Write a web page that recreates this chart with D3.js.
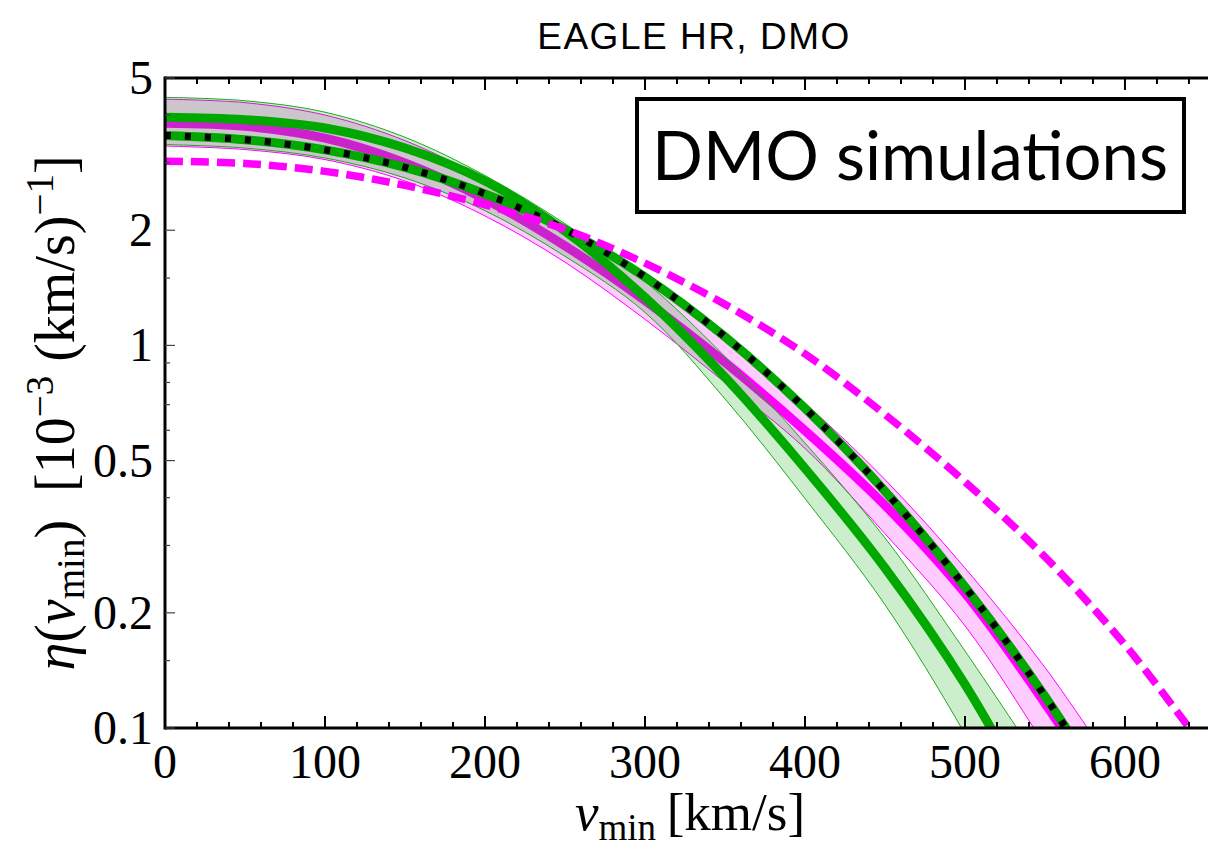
<!DOCTYPE html>
<html>
<head>
<meta charset="utf-8">
<script src="https://cdn.jsdelivr.net/npm/d3@7/dist/d3.min.js"></script>
<style>
  html, body { margin: 0; padding: 0; background: #ffffff; }
  svg { display: block; }
</style>
</head>
<body>
<svg id="chart" width="1208" height="855"></svg>
<script>
// eta(v_min) curves, [v_min in km/s, eta in 1e-3 (km/s)^-1]
const greenUpper = [[0,4.45],[50,4.36],[100,4.07],[150,3.50],[200,2.78],[250,2.08],[300,1.47],[350,0.935],[400,0.556],[450,0.314],[500,0.159],[550,0.0776]];
const greenMid   = [[0,3.95],[50,3.89],[100,3.70],[150,3.28],[200,2.69],[250,1.99],[300,1.335],[350,0.826],[400,0.477],[450,0.262],[500,0.130],[550,0.0555]];
const greenLower = [[0,3.35],[50,3.28],[100,3.09],[150,2.74],[200,2.25],[250,1.71],[300,1.22],[350,0.725],[400,0.398],[450,0.21],[500,0.0965],[550,0.0395]];
const magUpper   = [[0,4.40],[50,4.31],[100,4.00],[150,3.43],[200,2.72],[250,2.04],[300,1.49],[350,1.053],[400,0.706],[450,0.446],[500,0.262],[550,0.144],[600,0.0715]];
const magMid     = [[0,3.81],[50,3.74],[100,3.48],[150,3.00],[200,2.41],[250,1.82],[300,1.31],[350,0.903],[400,0.599],[450,0.382],[500,0.225],[550,0.116],[600,0.0555]];
const magLower   = [[0,3.32],[50,3.25],[100,3.06],[150,2.69],[200,2.18],[250,1.65],[300,1.17],[350,0.80],[400,0.538],[450,0.322],[500,0.185],[550,0.09],[600,0.042]];
const fitDashed  = [[0,3.54],[50,3.45],[100,3.245],[150,2.92],[200,2.49],[250,2.01],[300,1.51],[350,1.053],[400,0.685],[450,0.416],[500,0.234],[550,0.121],[600,0.057]];
const shmDashed  = [[0,3.03],[50,2.99],[100,2.85],[150,2.62],[200,2.33],[250,2.01],[300,1.64],[350,1.28],[400,0.95],[450,0.66],[500,0.44],[550,0.28],[600,0.165],[650,0.088]];

// axis ticks
const xMajorTicks = [0, 100, 200, 300, 400, 500, 600];
const xMinorTicks = [20,40,60,80,120,140,160,180,220,240,260,280,320,340,360,380,420,440,460,480,520,540,560,580,620,640];
const yMajorTicks = [0.1, 0.2, 0.5, 1, 2, 5];
const yMajorLabels = ["0.1", "0.2", "0.5", "1", "2", "5"];
const yMinorTicks = [0.15, 0.3, 0.4, 0.6, 0.7, 0.8, 0.9, 1.5, 3, 4];

const titleText = "EAGLE HR, DMO";
const boxText = "DMO simulations";

const svg = d3.select("#chart");
const plotLeft = 165, plotRight = 1208, plotTop = 78, plotBottom = 728;

const x = d3.scaleLinear().domain([0, 651.9]).range([plotLeft, plotRight]);
const y = d3.scaleLog().domain([0.1, 5]).range([plotBottom, plotTop]);

const serif = "'Liberation Serif', 'Times New Roman', serif";

svg.append("defs").append("clipPath").attr("id", "plotClip")
  .append("rect").attr("x", plotLeft).attr("y", plotTop)
  .attr("width", plotRight - plotLeft).attr("height", plotBottom - plotTop);

const plot = svg.append("g").attr("clip-path", "url(#plotClip)");

const line = d3.line().x(d => x(d[0])).y(d => y(d[1])).curve(d3.curveCatmullRom.alpha(0.5));

function bandPath(upper, lower) {
  const up = line(upper);
  const low = line(lower.slice().reverse());
  return up + "L" + low.substring(1) + "Z";
}

// magenta band and central curve
plot.append("path").attr("d", bandPath(magUpper, magLower))
  .attr("fill", "rgba(255,0,255,0.2)").attr("stroke", "none");
[magUpper, magLower].forEach(c => plot.append("path").attr("d", line(c))
  .attr("fill", "none").attr("stroke", "#ff00ff").attr("stroke-width", 1));
plot.append("path").attr("d", line(magMid))
  .attr("fill", "none").attr("stroke", "#ff00ff").attr("stroke-width", 9);

// green band and central curve
plot.append("path").attr("d", bandPath(greenUpper, greenLower))
  .attr("fill", "rgba(0,170,0,0.2)").attr("stroke", "none");
[greenUpper, greenLower].forEach(c => plot.append("path").attr("d", line(c))
  .attr("fill", "none").attr("stroke", "#1fa81f").attr("stroke-width", 1));
plot.append("path").attr("d", line(greenMid))
  .attr("fill", "none").attr("stroke", "#00a800").attr("stroke-width", 9);

// best-fit curve: green with black dashes
plot.append("path").attr("d", line(fitDashed))
  .attr("fill", "none").attr("stroke", "#00a800").attr("stroke-width", 9);
plot.append("path").attr("d", line(fitDashed))
  .attr("fill", "none").attr("stroke", "#000000").attr("stroke-width", 7)
  .attr("stroke-dasharray", "6,14");

// standard halo model curve
plot.append("path").attr("d", line(shmDashed))
  .attr("fill", "none").attr("stroke", "#ff00ff").attr("stroke-width", 7.5)
  .attr("stroke-dasharray", "18,8");

// frame
const axes = svg.append("g");
axes.append("line").attr("x1", plotLeft).attr("x2", plotRight).attr("y1", plotBottom).attr("y2", plotBottom)
  .attr("stroke", "#000").attr("stroke-width", 3);
axes.append("line").attr("x1", plotLeft).attr("x2", plotRight).attr("y1", plotTop).attr("y2", plotTop)
  .attr("stroke", "#000").attr("stroke-width", 3);
axes.append("line").attr("x1", plotLeft).attr("x2", plotLeft).attr("y1", plotTop - 1.5).attr("y2", plotBottom + 1.5)
  .attr("stroke", "#000").attr("stroke-width", 3);

// x ticks, bottom and top, pointing inward
function xTicks(vals, len) {
  vals.forEach(v => {
    axes.append("line").attr("x1", x(v)).attr("x2", x(v)).attr("y1", plotBottom).attr("y2", plotBottom - len)
      .attr("stroke", "#000").attr("stroke-width", 2);
    axes.append("line").attr("x1", x(v)).attr("x2", x(v)).attr("y1", plotTop).attr("y2", plotTop + len)
      .attr("stroke", "#000").attr("stroke-width", 2);
  });
}
xTicks(xMajorTicks.filter(v => v > 0), 12);
xTicks(xMinorTicks, 6);

// y ticks
yMajorTicks.forEach(v => axes.append("line").attr("x1", plotLeft).attr("x2", plotLeft + 10)
  .attr("y1", y(v)).attr("y2", y(v)).attr("stroke", "#444").attr("stroke-width", 1.2));
yMinorTicks.forEach(v => axes.append("line").attr("x1", plotLeft).attr("x2", plotLeft + 5)
  .attr("y1", y(v)).attr("y2", y(v)).attr("stroke", "#444").attr("stroke-width", 1.2));

// tick labels
xMajorTicks.forEach(v => svg.append("text").attr("x", x(v)).attr("y", 778)
  .attr("text-anchor", "middle").attr("font-family", serif).attr("font-size", 48)
  .attr("fill", "#000").text(v));
yMajorTicks.forEach((v, i) => svg.append("text").attr("x", 153).attr("y", y(v) + 16)
  .attr("text-anchor", "end").attr("font-family", serif).attr("font-size", 48)
  .attr("fill", "#000").text(yMajorLabels[i]));

// x axis label
const xl = svg.append("text").attr("x", 690).attr("y", 830).attr("text-anchor", "middle")
  .attr("font-family", serif).attr("font-size", 53).attr("fill", "#000");
xl.append("tspan").attr("font-style", "italic").text("v");
xl.append("tspan").attr("font-size", 37).attr("dy", 10).text("min");
xl.append("tspan").attr("dy", -10).text("\u2009[km/s]");

// y axis label
const yl = svg.append("text").attr("transform", "translate(74,413) rotate(-90)")
  .attr("text-anchor", "middle").attr("font-family", serif).attr("font-size", 56).attr("fill", "#000");
yl.append("tspan").attr("font-style", "italic").text("\u03b7");
yl.append("tspan").text("(");
yl.append("tspan").attr("font-style", "italic").text("v");
yl.append("tspan").attr("font-size", 39).attr("dy", 10).text("min");
yl.append("tspan").attr("dy", -10).text(")\u2002[10");
yl.append("tspan").attr("font-size", 39).attr("dy", -21).text("\u22123");
yl.append("tspan").attr("dy", 21).text(" (km/s)");
yl.append("tspan").attr("font-size", 39).attr("dy", -21).text("\u22121");
yl.append("tspan").attr("dy", 21).text("]");

// title
svg.append("text").attr("x", 694).attr("y", 49).attr("text-anchor", "middle")
  .attr("font-family", "'Liberation Sans', Arial, sans-serif").attr("font-size", 37)
  .attr("letter-spacing", 1.5).attr("fill", "#000").text(titleText);

// annotation box
svg.append("rect").attr("x", 637).attr("y", 99).attr("width", 547).attr("height", 113)
  .attr("fill", "#fff").attr("stroke", "#000").attr("stroke-width", 4);
svg.append("text").attr("x", 910).attr("y", 180).attr("text-anchor", "middle")
  .attr("font-family", "Lato, 'Open Sans', sans-serif").attr("font-size", 67)
  .attr("fill", "#000").text(boxText);
</script>
</body>
</html>
